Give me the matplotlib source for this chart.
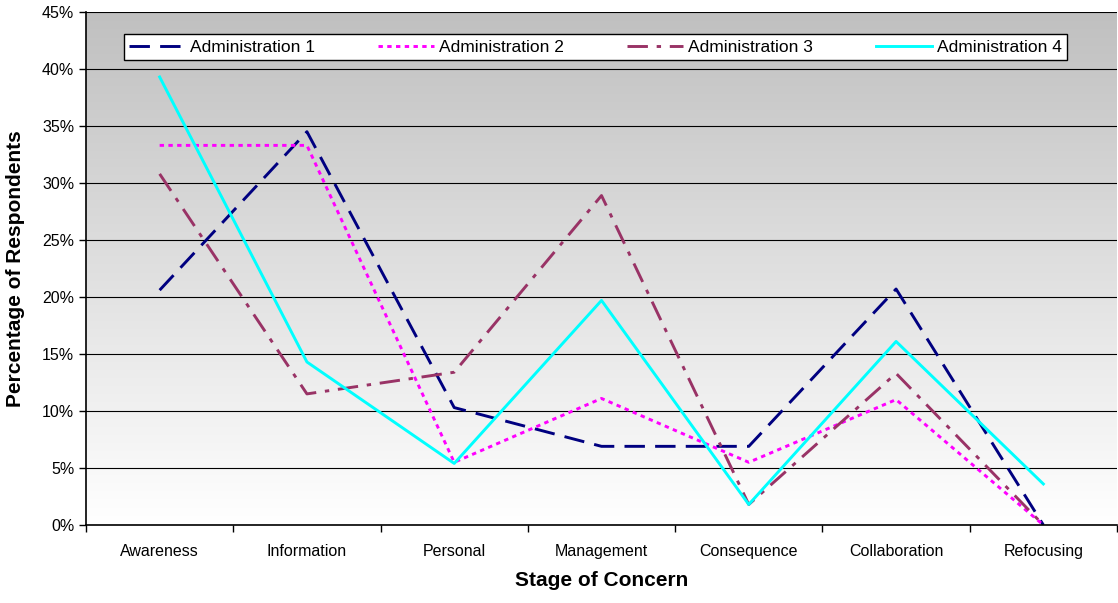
import matplotlib

matplotlib.use("Agg")
import matplotlib.pyplot as plt
import numpy as np
from matplotlib.colors import LinearSegmentedColormap
from matplotlib.ticker import FuncFormatter, FixedLocator

stages = ["Awareness", "Information", "Personal", "Management",
          "Consequence", "Collaboration", "Refocusing"]

admin1 = [20.6, 34.5, 10.3, 6.9, 6.9, 20.7, 0.0]
admin2 = [33.3, 33.3, 5.5, 11.1, 5.5, 11.0, 0.0]
admin3 = [30.8, 11.5, 13.4, 28.9, 1.8, 13.3, 0.0]
admin4 = [39.3, 14.3, 5.4, 19.7, 1.8, 16.1, 3.6]

labels = ["Administration 1", "Administration 2", "Administration 3", "Administration 4"]

plt.rcParams["font.family"] = ["Liberation Sans", "DejaVu Sans"]

fig = plt.figure(figsize=(11.18, 6.03), dpi=100)
ax = fig.add_axes([86 / 1118, 78 / 603, 1031 / 1118, 513 / 603])

# grey-to-white vertical gradient behind the plot
grad = LinearSegmentedColormap.from_list("bg", ["#ffffff", "#c0c0c0"])
ax.imshow(np.linspace(0, 1, 256).reshape(-1, 1), cmap=grad, origin="lower",
          aspect="auto", extent=[0, 1, 0, 1], transform=ax.transAxes, zorder=0)

x = np.arange(len(stages))
lw = 2.1
ax.plot(x, admin1, color="#000080", lw=lw, dashes=(7, 3.5), label=labels[0], zorder=3)
ax.plot(x, admin2, color="#ff00ff", lw=lw, dashes=(1.5, 1.5), label=labels[1], zorder=3)
ax.plot(x, admin3, color="#993366", lw=lw, dashes=(7, 3, 1.5, 3), label=labels[2], zorder=3)
ax.plot(x, admin4, color="#00ffff", lw=lw, label=labels[3], zorder=3)

ax.set_xlim(-0.5, len(stages) - 0.5)
ax.set_ylim(0, 45)
ax.set_yticks(np.arange(0, 46, 5))
ax.yaxis.set_major_formatter(FuncFormatter(lambda v, _: f"{v:.0f}%"))
ax.grid(True, axis="y", color="black", lw=0.8, zorder=1)
ax.set_axisbelow(False)

# category labels centred, tick marks at band boundaries
ax.set_xticks(x)
ax.set_xticklabels(stages)
ax.tick_params(axis="x", which="major", length=0, pad=14, labelsize=11.5)
ax.xaxis.set_minor_locator(FixedLocator(np.arange(-0.5, len(stages), 1)))
ax.tick_params(axis="x", which="minor", length=5, width=1, direction="out")
ax.tick_params(axis="y", length=5, width=1, labelsize=11.5)

for side in ["top", "right"]:
    ax.spines[side].set_visible(False)
for side in ["left", "bottom"]:
    ax.spines[side].set_linewidth(1.2)
    ax.spines[side].set_zorder(4)

ax.set_xlabel("Stage of Concern", fontsize=15, fontweight="bold", labelpad=8)
ax.set_ylabel("Percentage of Respondents", fontsize=15, fontweight="bold", labelpad=12)

leg = ax.legend(ncol=4, loc="lower left", mode="expand",
                bbox_to_anchor=(38 / 1031, (525 - 60) / 513, 943 / 1031, 28 / 513),
                fancybox=False, framealpha=1, edgecolor="black", fontsize=12.5,
                handlelength=3.2, handletextpad=0.3, borderaxespad=0, borderpad=0.3)
leg.get_frame().set_linewidth(1.0)
leg.set_zorder(5)

fig.savefig("out.png", dpi=100)
